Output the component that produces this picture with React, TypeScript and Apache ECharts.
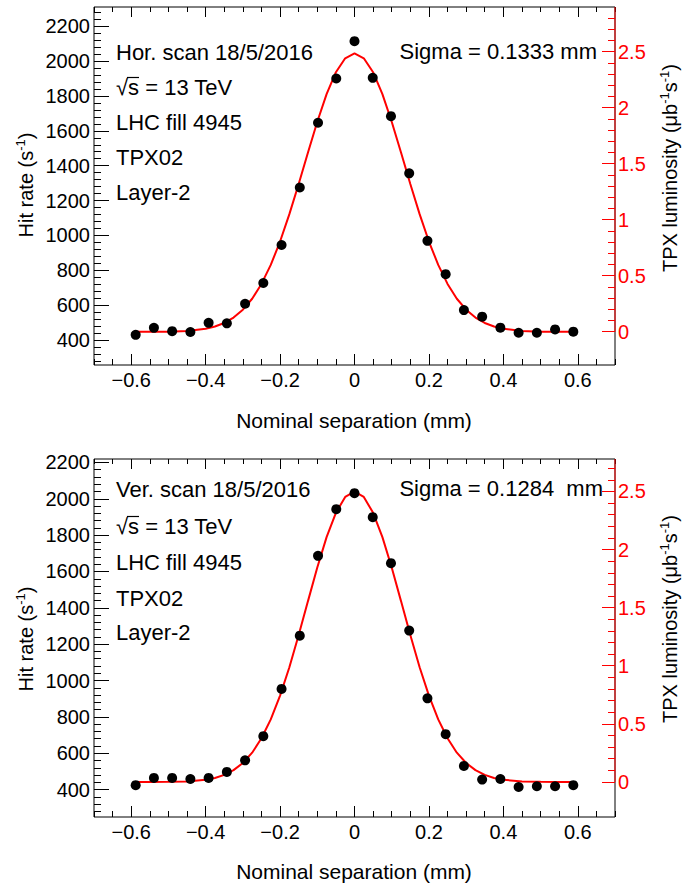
import React, { useEffect, useRef } from "react";
import * as echarts from "echarts";

// ---- data ----
const separation = [
  -0.588, -0.539, -0.49, -0.441, -0.392, -0.343, -0.294, -0.245, -0.196, -0.147, -0.098, -0.049,
  0, 0.049, 0.098, 0.147, 0.196, 0.245, 0.294, 0.343, 0.392, 0.441, 0.49, 0.539, 0.588,
];
const hitRateHor = [
  430, 470, 451, 446, 499, 496, 608, 727, 945, 1275, 1646, 1900,
  2114, 1904, 1684, 1356, 969, 778, 572, 534, 471, 442, 442, 461, 448,
];
const hitRateVer = [
  424, 464, 464, 458, 464, 497, 561, 694, 954, 1247, 1686, 1943,
  2031, 1899, 1646, 1275, 902, 705, 530, 455, 458, 414, 418, 418, 424,
];
const fitX = [
  -0.59, -0.55, -0.5, -0.45, -0.4, -0.375, -0.35, -0.325, -0.3, -0.275, -0.25, -0.225, -0.2, -0.175,
  -0.15, -0.125, -0.1, -0.075, -0.05, -0.025, 0, 0.025, 0.05, 0.075, 0.1, 0.125, 0.15, 0.175, 0.2,
  0.225, 0.25, 0.275, 0.3, 0.325, 0.35, 0.375, 0.4, 0.45, 0.5, 0.55, 0.59,
];
const fitHor = [
  447, 447, 448, 452, 465, 478, 498, 529, 574, 637, 722, 831, 965, 1122,
  1295, 1476, 1652, 1810, 1936, 2016, 2044, 2016, 1936, 1810, 1652, 1476, 1295, 1122, 965,
  831, 722, 637, 574, 529, 498, 478, 465, 452, 448, 447, 447,
];
const fitVer = [
  442, 442, 443, 445, 454, 464, 481, 507, 546, 603, 682, 786, 917, 1073,
  1250, 1437, 1622, 1789, 1923, 2010, 2040, 2010, 1923, 1789, 1622, 1437, 1250, 1073, 917,
  786, 682, 603, 546, 507, 481, 464, 454, 445, 443, 442, 442,
];

// ---- axes / tick labels ----
const xMajorTicks = [-0.6, -0.4, -0.2, 0, 0.2, 0.4, 0.6];
const yLeftMajorTicks = [400, 600, 800, 1000, 1200, 1400, 1600, 1800, 2000, 2200];
const yRightMajorTicks = [0, 0.5, 1, 1.5, 2, 2.5];
const xRange = [-0.7, 0.7];
const leftRangeHor = [257, 2310];
const rightRangeHor = [-0.297, 2.899];
const leftRangeVer = [249, 2219];
const rightRangeVer = [-0.302, 2.779];

const panelHeaderHor = ["Hor. scan 18/5/2016", "√s = 13 TeV", "LHC fill 4945", "TPX02", "Layer-2"];
const panelHeaderVer = ["Ver. scan 18/5/2016", "√s = 13 TeV", "LHC fill 4945", "TPX02", "Layer-2"];
const sigmaHor = "Sigma = 0.1333 mm";
const sigmaVer = "Sigma = 0.1284  mm";
const xTitle = "Nominal separation (mm)";

const FONT = '"Liberation Sans", Arial, Helvetica, sans-serif';
const RED = "#ff0000";

function steps(from: number, to: number, step: number): number[] {
  const out: number[] = [];
  const n = Math.round((to - from) / step);
  for (let i = 0; i <= n; i++) out.push(Math.round((from + i * step) * 1000) / 1000);
  return out;
}

function fmtX(v: number) {
  if (Math.abs(v) < 1e-9) return "0";
  return (v < 0 ? "\u2212" : "") + Math.abs(v).toFixed(1);
}

function buildPanel(
  p: number,
  left: number[],
  right: number[],
  rates: number[],
  fit: number[],
  leftMinorFrom: number,
  leftMinorTo: number,
  rightMinorTo: number
) {
  const g = p;
  const xMinor = steps(-0.7, 0.7, 0.05);
  const base = {
    gridIndex: g,
    type: "value",
    splitLine: { show: false },
    axisLine: { show: false, onZero: false },
  };
  const xAxes = [
    {
      ...base,
      position: "bottom",
      min: xRange[0],
      max: xRange[1],
      axisTick: { show: true, inside: true, length: 11, customValues: xMajorTicks, lineStyle: { color: "#000", width: 1 } },
      axisLabel: {
        show: true,
        customValues: xMajorTicks,
        formatter: (v: number) => fmtX(v),
        color: "#000",
        fontSize: 20,
        fontFamily: FONT,
        margin: 5,
      },
    },
    {
      ...base,
      position: "bottom",
      min: xRange[0],
      max: xRange[1],
      axisTick: { show: true, inside: true, length: 6, customValues: xMinor, lineStyle: { color: "#000", width: 1 } },
      axisLabel: { show: false },
    },
    {
      ...base,
      position: "top",
      min: xRange[0],
      max: xRange[1],
      axisTick: { show: true, inside: true, length: 10, customValues: xMajorTicks, lineStyle: { color: "#000", width: 1 } },
      axisLabel: { show: false },
    },
    {
      ...base,
      position: "top",
      min: xRange[0],
      max: xRange[1],
      axisTick: { show: true, inside: true, length: 5, customValues: xMinor, lineStyle: { color: "#000", width: 1 } },
      axisLabel: { show: false },
    },
  ];
  const yAxes = [
    {
      ...base,
      position: "left",
      min: left[0],
      max: left[1],
      axisTick: { show: true, inside: true, length: 15, customValues: yLeftMajorTicks, lineStyle: { color: "#000", width: 1 } },
      axisLabel: {
        show: true,
        customValues: yLeftMajorTicks,
        formatter: (v: number) => String(Math.round(v)),
        color: "#000",
        fontSize: 20,
        fontFamily: FONT,
        margin: 4,
      },
    },
    {
      ...base,
      position: "left",
      min: left[0],
      max: left[1],
      axisTick: { show: true, inside: true, length: 7, customValues: steps(leftMinorFrom, leftMinorTo, 40), lineStyle: { color: "#000", width: 1 } },
      axisLabel: { show: false },
    },
    {
      ...base,
      position: "right",
      min: right[0],
      max: right[1],
      axisTick: { show: true, inside: true, length: 13, customValues: yRightMajorTicks, lineStyle: { color: RED, width: 1 } },
      axisLabel: {
        show: true,
        customValues: yRightMajorTicks,
        formatter: (v: number) => String(v),
        color: RED,
        fontSize: 20,
        fontFamily: FONT,
        margin: 3,
      },
    },
    {
      ...base,
      position: "right",
      min: right[0],
      max: right[1],
      axisTick: { show: true, inside: true, length: 7, customValues: steps(0, rightMinorTo, 0.1), lineStyle: { color: RED, width: 1 } },
      axisLabel: { show: false },
    },
  ];
  const xi = p * 4;
  const yi = p * 4;
  const series = [
    {
      type: "line",
      xAxisIndex: xi,
      yAxisIndex: yi,
      data: fitX.map((x, i) => [x, fit[i]]),
      showSymbol: false,
      symbol: "none",
      lineStyle: { color: RED, width: 2, opacity: 1 },
      z: 3,
      silent: true,
    },
    {
      type: "scatter",
      xAxisIndex: xi,
      yAxisIndex: yi,
      data: separation.map((x, i) => [x, rates[i]]),
      symbol: "circle",
      symbolSize: 10,
      itemStyle: { color: "#000", opacity: 1 },
      z: 4,
      silent: true,
    },
    {
      type: "line",
      xAxisIndex: xi,
      yAxisIndex: yi + 2,
      data: [
        [xRange[1], 0],
        [xRange[1], right[1]],
      ],
      symbol: "none",
      clip: false,
      lineStyle: { color: RED, width: 1, opacity: 1 },
      z: 5,
      silent: true,
    },
  ];
  return { xAxes, yAxes, series };
}

function supTitle(parts: string[]) {
  return parts.map((t, i) => (i % 2 === 0 ? `{n|${t}}` : `{s|${t}}`)).join("");
}

export default function App() {
  const ref = useRef<HTMLDivElement>(null);
  useEffect(() => {
    if (!ref.current) return;
    const chart = echarts.init(ref.current, undefined, { renderer: "svg" });
    const p0 = buildPanel(0, leftRangeHor, rightRangeHor, hitRateHor, fitHor, 280, 2280, 2.8);
    const p1 = buildPanel(1, leftRangeVer, rightRangeVer, hitRateVer, fitVer, 280, 2200, 2.7);

    const rich = (color: string) => ({
      n: { fontSize: 20, fontFamily: FONT, color, lineHeight: 24 },
      s: { fontSize: 13, fontFamily: FONT, color, verticalAlign: "top" },
    });

    const headerTexts = (lines: string[], ys: number[]) =>
      lines.map((t, i) => ({
        type: "text",
        x: 116,
        y: ys[i],
        style: { text: t, font: `22px ${FONT}`, fill: "#000", align: "left", verticalAlign: "middle" },
      }));

    const graphic: any[] = [
      ...headerTexts(panelHeaderHor, [52.5, 87.5, 122, 157, 192]),
      ...headerTexts(panelHeaderVer, [489.5, 526.5, 562, 598, 632]),
      { type: "line", shape: { x1: 127, y1: 77.5, x2: 139, y2: 77.5 }, style: { stroke: "#000", lineWidth: 1.2 } },
      { type: "line", shape: { x1: 127, y1: 516.5, x2: 139, y2: 516.5 }, style: { stroke: "#000", lineWidth: 1.2 } },
      {
        type: "text",
        x: 597,
        y: 51.5,
        style: { text: sigmaHor, font: `22px ${FONT}`, fill: "#000", align: "right", verticalAlign: "middle" },
      },
      {
        type: "text",
        x: 603,
        y: 488,
        style: { text: sigmaVer, font: `22px ${FONT}`, fill: "#000", align: "right", verticalAlign: "middle" },
      },
      {
        type: "text",
        x: 354,
        y: 420,
        style: { text: xTitle, font: `21px ${FONT}`, fill: "#000", align: "center", verticalAlign: "middle" },
      },
      {
        type: "text",
        x: 354,
        y: 871,
        style: { text: xTitle, font: `21px ${FONT}`, fill: "#000", align: "center", verticalAlign: "middle" },
      },
      {
        type: "text",
        x: 26,
        y: 185,
        rotation: Math.PI / 2,
        style: { text: supTitle(["Hit rate (s", "-1", ")"]), rich: rich("#000"), align: "center", verticalAlign: "middle" },
      },
      {
        type: "text",
        x: 26,
        y: 639,
        rotation: Math.PI / 2,
        style: { text: supTitle(["Hit rate (s", "-1", ")"]), rich: rich("#000"), align: "center", verticalAlign: "middle" },
      },
      {
        type: "text",
        x: 670,
        y: 168,
        rotation: Math.PI / 2,
        style: {
          text: supTitle(["TPX luminosity (μb", "-1", "s", "-1", ")"]),
          rich: rich(RED),
          align: "center",
          verticalAlign: "middle",
        },
      },
      {
        type: "text",
        x: 670,
        y: 619,
        rotation: Math.PI / 2,
        style: {
          text: supTitle(["TPX luminosity (μb", "-1", "s", "-1", ")"]),
          rich: rich(RED),
          align: "center",
          verticalAlign: "middle",
        },
      },
    ];

    chart.setOption({
      animation: false,
      backgroundColor: "#ffffff",
      textStyle: { fontFamily: FONT },
      grid: [
        { left: 94, top: 7, width: 521, height: 358, show: true, borderColor: "#000", borderWidth: 1, backgroundColor: "transparent", outerBoundsMode: "none", containLabel: false },
        { left: 94, top: 459, width: 521, height: 358, show: true, borderColor: "#000", borderWidth: 1, backgroundColor: "transparent", outerBoundsMode: "none", containLabel: false },
      ],
      xAxis: [...p0.xAxes, ...p1.xAxes],
      yAxis: [...p0.yAxes, ...p1.yAxes],
      series: [...p0.series, ...p1.series],
      graphic,
    } as any);
    return () => chart.dispose();
  }, []);
  return <div ref={ref} style={{ position: "fixed", left: 0, top: 0, width: 696, height: 884, background: "#fff" }} />;
}
